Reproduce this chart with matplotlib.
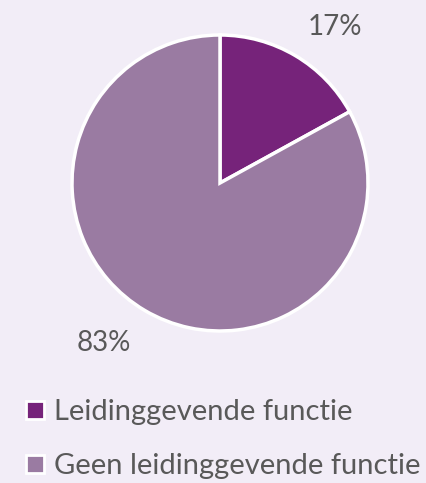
import matplotlib
matplotlib.use("Agg")
import matplotlib.pyplot as plt
from matplotlib.lines import Line2D

categories = ["Leidinggevende functie", "Geen leidinggevende functie"]
values = [17, 83]
pct_labels = ["17%", "83%"]
colors = ["#76237A", "#9A7BA2"]
bg = "#F2EDF7"
text_color = "#595959"
font = "Lato"

W, H = 426, 483
fig = plt.figure(figsize=(W / 100, H / 100), dpi=100, facecolor=bg)
cx, cy, r = 220, 183, 148
ax = fig.add_axes([(cx - r) / W, (H - cy - r) / H, 2 * r / W, 2 * r / H])
ax.set_facecolor(bg)
wedges, _ = ax.pie(values, colors=colors, startangle=90, counterclock=False,
                   radius=1, wedgeprops=dict(edgecolor="white", linewidth=2.5))
ax.set_xlim(-1, 1)
ax.set_ylim(-1, 1)
ax.set_aspect("equal")
ax.axis("off")

label_pos = [(0.777, 1.054), (-0.784, -1.081)]
for lab, (x, y) in zip(pct_labels, label_pos):
    ax.text(x, y, lab, ha="center", va="center", fontsize=20, color=text_color,
            family=font, clip_on=False)

handles = [Line2D([], [], marker="s", linestyle="none", markersize=13,
                  markerfacecolor=c, markeredgecolor="white", markeredgewidth=2)
           for c in colors]
leg = fig.legend(handles, categories, loc="upper left",
                 bbox_to_anchor=(26 / W, 1 - 399 / H), frameon=False,
                 prop={"family": font, "size": 21}, labelcolor=text_color,
                 handlelength=0.6, handletextpad=0.35, labelspacing=0.95,
                 borderpad=0, borderaxespad=0)

fig.savefig("out.png", dpi=100, facecolor=bg)
